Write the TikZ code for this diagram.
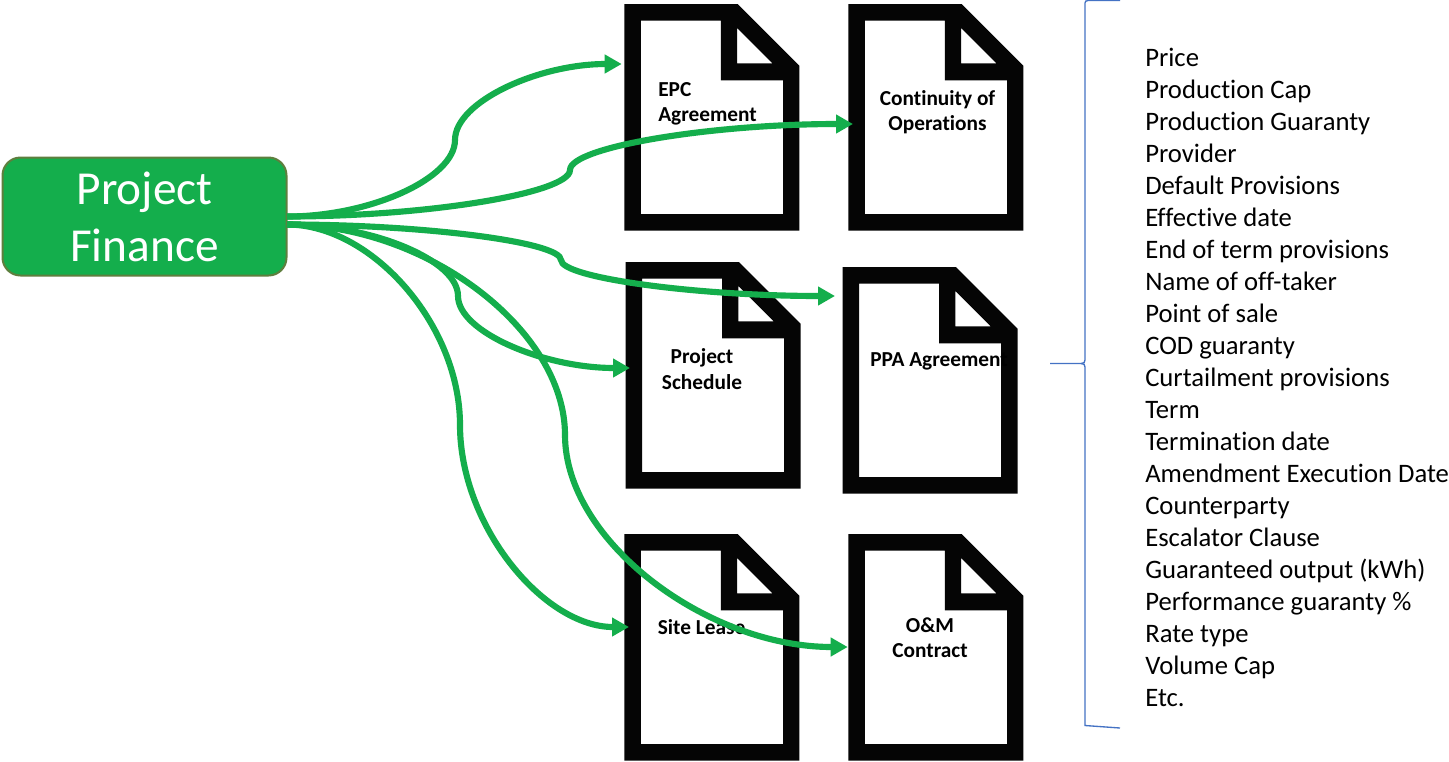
\documentclass[tikz,border=0pt]{standalone}
\usepackage{fontspec}
\setmainfont{Carlito}[RawFeature={-liga;-clig;-dlig}]
\usetikzlibrary{arrows.meta}
\definecolor{pfgreen}{HTML}{14AE4C}
\definecolor{pfedge}{HTML}{5E7F3E}
\definecolor{docblack}{HTML}{050505}
\definecolor{bracecol}{HTML}{4472C4}
\tikzset{
  link/.style={draw=pfgreen,line width=4.6pt,-{Triangle[length=12.75pt,width=13.5pt]}},
  doclabel/.style={font=\fontsize{16}{19}\selectfont\bfseries,text=black,inner sep=0pt,align=center},
  listitem/.style={font=\fontsize{20}{24}\selectfont,text=black,inner sep=0pt,anchor=base west},
  docframe/.style={minimum width=131.25pt,minimum height=170.25pt,inner sep=0pt,anchor=north west}
}
\newcommand{\docicon}[3]{%
  \node[docframe] (#1) at (#2,#3) {};
  \fill[docblack,even odd rule,shift={(#2,#3)}]
    (0,0) -- (113.3,0) -- (175,61.7) -- (175,226.7) -- (0,226.7) -- cycle
    (16.5,16.7) -- (96.5,16.7) -- (96.5,76.3) -- (158.7,76.3) -- (158.7,210) -- (16.5,210) -- cycle
    (112.9,24) -- (112.9,59.3) -- (148.1,59.3) -- cycle;
}
\begin{document}
\begin{tikzpicture}[x=0.75pt,y=-0.75pt]
\useasboundingbox (0,0) rectangle (1449,761);
\fill[white] (0,0) rectangle (1449,761);
% documents
\docicon{epc}{624.3}{4}
\docicon{coo}{848.3}{4}
\docicon{sched}{625.5}{262}
\docicon{ppa}{842.5}{267}
\docicon{site}{624.3}{534}
\docicon{om}{848.3}{534}
% labels
\node[doclabel,align=left,anchor=west] (epcT) at (658,104) {EPC\\Agreement};
\node[doclabel] (cooT) at (937.5,112.5) {Continuity of\\Operations};
\node[doclabel] (schedT) at (702,369) {Project\\Schedule};
\node[doclabel,anchor=west] (ppaT) at (870,361.5) {PPA Agreement};
\node[doclabel,anchor=west] (siteT) at (657.5,627.5) {Site Lease};
\node[doclabel] (omT) at (930,638) {O\&M\\Contract};
% root
\node[draw=pfedge,fill=pfgreen,line width=1.5pt,rounded corners=13.5pt,minimum width=213pt,minimum height=88.5pt,inner sep=0pt,text=white,align=center,font=\fontsize{35.5}{42.75}\selectfont] (pf) at (144.5,216.5) {Project\\Finance};
% connector ends
\coordinate (pfA) at (287,216.5);
\coordinate (pfB) at (287,224.5);
\coordinate (epcIn) at (621.7,64);
\coordinate (cooIn) at (853,124);
\coordinate (ppaIn) at (835,296);
\coordinate (schedIn) at (630,368);
\coordinate (siteIn) at (629,627);
\coordinate (omIn) at (847.7,647);
\path[link] (pfA) .. controls (371,216.5) and (455,178) .. (455,140) .. controls (455,102) and (538,64) .. (epcIn);
\path[link] (pfA) .. controls (428,216.5) and (570,193) .. (570,170) .. controls (570,147) and (711,124) .. (cooIn);
\path[link] (pfB) .. controls (424,224.5) and (561,242) .. (561,260) .. controls (561,278) and (698,296) .. (ppaIn);
\path[link] (pfB) .. controls (372,224.5) and (458,260) .. (458,296) .. controls (458,332) and (544,368) .. (schedIn);
\path[link] (pfB) .. controls (372,224.5) and (460,325) .. (460,425) .. controls (460,526) and (544,627) .. (siteIn);
\path[link] (pfB) .. controls (427,224.5) and (565,330) .. (565,435) .. controls (565,541) and (707,647) .. (omIn);
% brace
\coordinate (braceTip) at (1050,363.5);
\coordinate (braceTop) at (1120,0.5);
\coordinate (braceBot) at (1120,728);
\draw[bracecol,line width=1pt] (braceTop) -- (1088,0.5) .. controls (1086,0.5) and (1085,1.5) .. (1085,3) -- (1085,360) .. controls (1085,362.5) and (1084,363.5) .. (1081,363.5) -- (braceTip);
\draw[bracecol,line width=1pt] (1081,363.5) .. controls (1084,363.5) and (1085,364.5) .. (1085,367) -- (1085,725.5) -- (braceBot);
% list
\foreach \t [count=\i from 0] in {Price,Production Cap,Production Guaranty,Provider,Default Provisions,Effective date,End of term provisions,Name of off-taker,Point of sale,COD guaranty,Curtailment provisions,Term,Termination date,Amendment Execution Date,Counterparty,Escalator Clause,Guaranteed output (kWh),Performance guaranty \%,Rate type,Volume Cap,Etc.}
  \node[listitem] (item\i) at (1145,{66+32*\i}) {\t};
\end{tikzpicture}
\end{document}
